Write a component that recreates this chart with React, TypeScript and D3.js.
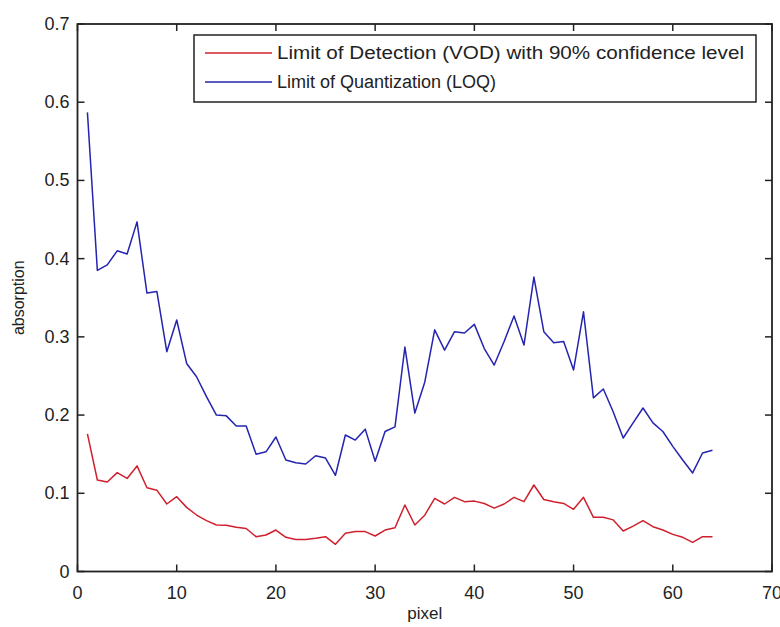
import React from "react";
import * as d3 from "d3";

const pixels: number[] = Array.from({ length: 64 }, (_, i) => i + 1);

const lodValues: number[] = [
  0.176, 0.117, 0.1145, 0.1264, 0.119, 0.135, 0.107, 0.104, 0.0863, 0.0956,
  0.082, 0.0722, 0.065, 0.0595, 0.059, 0.0565, 0.055, 0.0445, 0.0467, 0.053,
  0.0437, 0.041, 0.041, 0.0424, 0.0445, 0.0348, 0.0488, 0.051, 0.051, 0.0454,
  0.053, 0.056, 0.085, 0.0595, 0.072, 0.0936, 0.0863, 0.0948, 0.0893, 0.09,
  0.087, 0.081, 0.0863, 0.0948, 0.0893, 0.1106, 0.092, 0.0893, 0.087, 0.0795,
  0.0948, 0.0693, 0.0693, 0.066, 0.0518, 0.058, 0.065, 0.0573, 0.053, 0.0475,
  0.0437, 0.0373, 0.0445, 0.0445,
];

const loqValues: number[] = [
  0.587, 0.385, 0.392, 0.41, 0.406, 0.447, 0.356, 0.358, 0.281, 0.3216,
  0.266, 0.249, 0.2235, 0.2, 0.199, 0.186, 0.186, 0.15, 0.153, 0.172,
  0.1426, 0.139, 0.1375, 0.148, 0.145, 0.123, 0.1745, 0.168, 0.182, 0.141,
  0.179, 0.185, 0.287, 0.2026, 0.242, 0.309, 0.283, 0.3066, 0.305, 0.316,
  0.285, 0.264, 0.294, 0.3267, 0.2896, 0.3765, 0.3066, 0.2926, 0.294, 0.2577,
  0.332, 0.222, 0.2334, 0.204, 0.1707, 0.19, 0.209, 0.19, 0.179, 0.16,
  0.1426, 0.126, 0.1515, 0.155,
];

const xTicks: number[] = [0, 10, 20, 30, 40, 50, 60, 70];
const yTicks: number[] = [0, 0.1, 0.2, 0.3, 0.4, 0.5, 0.6, 0.7];
const yTickLabels: string[] = ["0", "0.1", "0.2", "0.3", "0.4", "0.5", "0.6", "0.7"];

const seriesNames: string[] = [
  "Limit of Detection (VOD) with 90% confidence level",
  "Limit of Quantization (LOQ)",
];
const seriesColors: string[] = ["#d0202e", "#2424b0"];

export default function App() {
  const W = 780;
  const H = 627;
  const left = 77.5;
  const right = 772;
  const top = 24;
  const bottom = 571.5;

  const x = d3.scaleLinear().domain([0, 70]).range([left, right]);
  const y = d3.scaleLinear().domain([0, 0.7]).range([bottom, top]);

  const line = d3
    .line<[number, number]>()
    .x((d) => x(d[0]))
    .y((d) => y(d[1]));

  const series = [lodValues, loqValues];
  const axisColor = "#222";
  const font = "'Liberation Sans', Arial, sans-serif";
  const tickLen = 7;
  const legendTextLengths = [467, 219];

  return (
    <svg
      width={W}
      height={H}
      style={{ position: "absolute", left: 0, top: 0, background: "#fff" }}
      fontFamily={font}
    >
      <rect x={0} y={0} width={W} height={H} fill="#fff" />
      {series.map((vals, si) => (
        <path
          key={si}
          d={line(pixels.map((p, i) => [p, vals[i]] as [number, number])) || ""}
          fill="none"
          stroke={seriesColors[si]}
          strokeWidth={1.5}
          strokeLinejoin="round"
        />
      ))}
      <rect
        x={left}
        y={top}
        width={right - left}
        height={bottom - top}
        fill="none"
        stroke={axisColor}
        strokeWidth={1.8}
      />
      {xTicks.map((t) => (
        <g key={"xt" + t}>
          <line x1={x(t)} x2={x(t)} y1={bottom} y2={bottom - tickLen} stroke={axisColor} strokeWidth={1.5} />
          <line x1={x(t)} x2={x(t)} y1={top} y2={top + tickLen} stroke={axisColor} strokeWidth={1.5} />
          <text x={x(t)} y={bottom + 27} textAnchor="middle" fontSize={18} fill="#222">
            {t}
          </text>
        </g>
      ))}
      {yTicks.map((t, i) => (
        <g key={"yt" + t}>
          <line x1={left} x2={left + tickLen} y1={y(t)} y2={y(t)} stroke={axisColor} strokeWidth={1.5} />
          <line x1={right} x2={right - tickLen} y1={y(t)} y2={y(t)} stroke={axisColor} strokeWidth={1.5} />
          <text x={left - 8} y={y(t) + 6} textAnchor="end" fontSize={18} fill="#222">
            {yTickLabels[i]}
          </text>
        </g>
      ))}
      <text x={(left + right) / 2} y={619} textAnchor="middle" fontSize={17} fill="#222">
        pixel
      </text>
      <text
        transform={`translate(24, ${(top + bottom) / 2}) rotate(-90)`}
        textAnchor="middle"
        fontSize={16}
        fill="#222"
      >
        absorption
      </text>
      <rect x={194} y={35} width={562} height={67} fill="#fff" stroke={axisColor} strokeWidth={1.5} />
      {seriesNames.map((name, i) => (
        <g key={"lg" + i}>
          <line
            x1={205}
            x2={272}
            y1={53 + i * 29}
            y2={53 + i * 29}
            stroke={seriesColors[i]}
            strokeWidth={1.5}
          />
          <text
            x={277}
            y={59 + i * 29}
            fontSize={18}
            fill="#222"
            textLength={legendTextLengths[i]}
            lengthAdjust="spacingAndGlyphs"
          >
            {name}
          </text>
        </g>
      ))}
    </svg>
  );
}
